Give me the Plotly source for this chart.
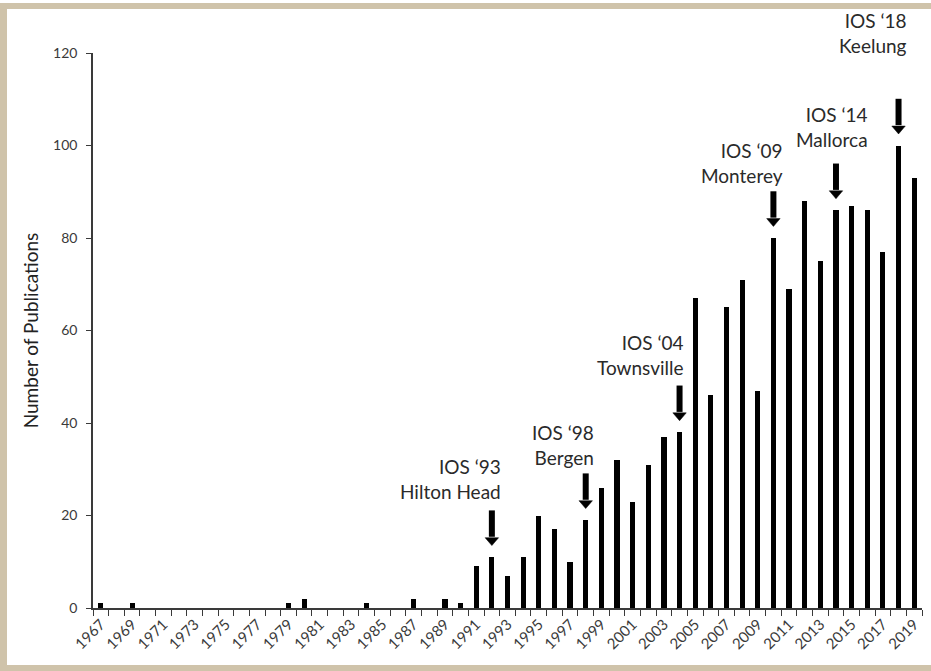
import plotly.graph_objects as go

# ---------------- data ----------------
years = list(range(1967, 2020))
publications = [
    1, 0, 1, 0, 0, 0, 0, 0, 0, 0, 0, 0, 1, 2, 0, 0, 0, 1, 0, 0, 2, 0, 2, 1,   # 1967-1990
    9, 11, 7, 11, 20, 17, 10, 19, 26, 32, 23, 31, 37, 38,                    # 1991-2004
    67, 46, 65, 71, 47, 80, 69, 88, 75, 86, 87, 86, 77, 100, 93,             # 2005-2019
]
tick_years = list(range(1967, 2020, 2))
tick_labels = [str(y) for y in tick_years]

event_years = [1992, 1998, 2004, 2010, 2014, 2018]
event_titles = ["IOS \u201893", "IOS \u201898", "IOS \u201804", "IOS \u201809", "IOS \u201814", "IOS \u201818"]
event_places = ["Hilton Head", "Bergen", "Townsville", "Monterey", "Mallorca", "Keelung"]

# label placement (right edge in years, vertical centre in data units)
label_x = [1992.72, 1998.66, 2004.42, 2010.73, 2016.17, 2018.67]
label_y = [27.9, 35.2, 54.6, 96.2, 103.9, 124.3]

# ---------------- layout constants ----------------
W, H = 931, 671
ML, MR, MT, MB = 93, 9, 53, 63
PW, PH = W - ML - MR, H - MT - MB
Y_MAX = 120
FONT = "Lato, 'Open Sans', sans-serif"
AXIS_COL = "#3a3a3a"
FRAME_COL = "#cfc3aa"


def px_x(px):
    return (px - ML) / PW


def px_y(py):
    return (H - MB - py) / PH


fig = go.Figure()
fig.add_trace(go.Bar(
    x=years, y=publications, width=0.33,
    marker=dict(color="black", line=dict(width=0)),
    hoverinfo="x+y",
))

shapes = []
annotations = []
value_of = dict(zip(years, publications))
GAP, LEN, HEAD_H, HEAD_HW = 2.5, 7.6, 1.7, 0.43
for yr, t1, t2, lx, ly in zip(event_years, event_titles, event_places, label_x, label_y):
    v = value_of[yr]
    tip = v + GAP
    tail = tip + LEN
    base = tip + HEAD_H
    shapes.append(dict(type="line", xref="x", yref="y", x0=yr, x1=yr, y0=tail, y1=base + 0.2,
                       line=dict(color="black", width=6)))
    shapes.append(dict(type="path", xref="x", yref="y",
                       path=f"M {yr - HEAD_HW} {base} L {yr + HEAD_HW} {base} L {yr} {tip} Z",
                       fillcolor="black", line=dict(color="black", width=0.5)))
    annotations.append(dict(x=lx, y=ly / Y_MAX, xref="x", yref="paper", text=f"{t1}<br>{t2}",
                            showarrow=False, xanchor="right", yanchor="middle", align="right",
                            font=dict(family=FONT, size=19, color="#2a2a2a")))

# tan picture frame (left, top, bottom bands)
for (x0, x1, y0, y1) in [(0, 7, 3, H), (0, W, 3, 9), (0, W, 665, H)]:
    shapes.append(dict(type="rect", xref="paper", yref="paper",
                       x0=px_x(x0), x1=px_x(x1), y0=px_y(y1), y1=px_y(y0),
                       fillcolor=FRAME_COL, line=dict(width=0), layer="above"))

fig.update_layout(
    width=W, height=H,
    margin=dict(l=ML, r=MR, t=MT, b=MB, pad=0, autoexpand=False),
    paper_bgcolor="white", plot_bgcolor="white",
    showlegend=False,
    shapes=shapes, annotations=annotations,
    font=dict(family=FONT, color=AXIS_COL),
    bargap=0,
)
fig.update_xaxes(
    type="linear", range=[1966.5, 2019.5],
    tickmode="array", tickvals=tick_years, ticktext=tick_labels, tickangle=-45,
    ticks="", showgrid=False, zeroline=False,
    showline=True, linecolor=AXIS_COL, linewidth=1.5,
    tickfont=dict(family=FONT, size=15, color=AXIS_COL),
    minor=dict(tickmode="linear", tick0=1966.5, dtick=1, ticks="outside", ticklen=6,
               tickcolor=AXIS_COL, tickwidth=1.2, showgrid=False),
)
fig.update_yaxes(
    range=[0, Y_MAX], dtick=20, tick0=0,
    ticks="outside", ticklen=5, tickcolor=AXIS_COL, tickwidth=1.2,
    showgrid=False, zeroline=False,
    showline=True, linecolor=AXIS_COL, linewidth=1.5,
    tickfont=dict(family=FONT, size=14, color=AXIS_COL),
    ticklabelstandoff=6,
    title=dict(text="Number of Publications", standoff=9,
               font=dict(family=FONT, size=19, color="#222222")),
)

fig.write_html(
    "out.html",
    config={"displayModeBar": False},
    post_script="document.body.style.margin='0';document.body.style.overflow='hidden';",
)
